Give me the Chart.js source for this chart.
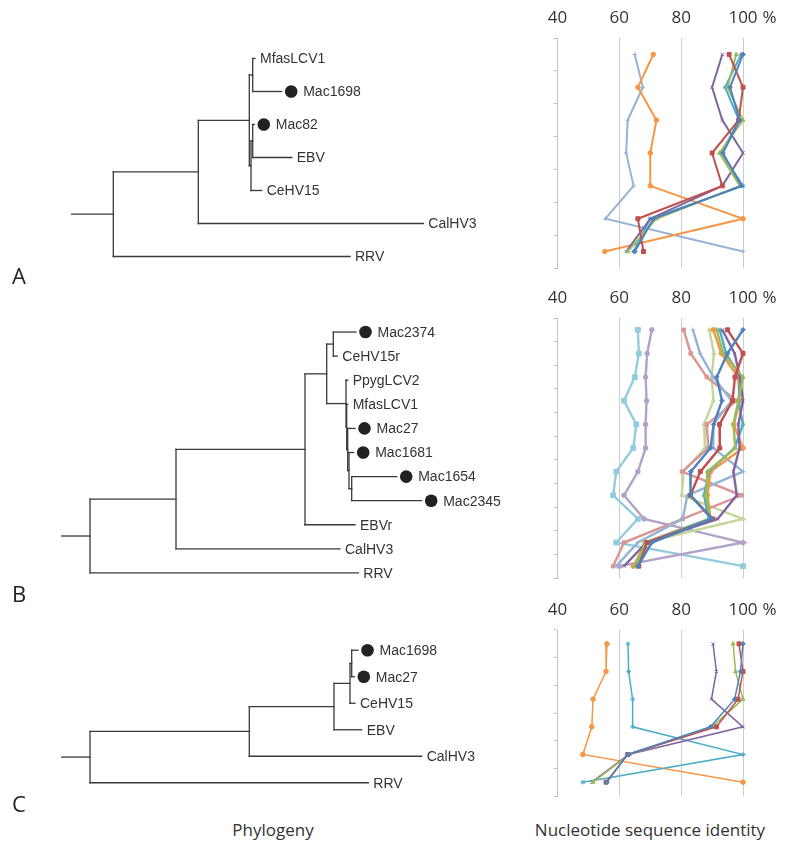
<!DOCTYPE html>
<html>
<head>
<meta charset="utf-8">
<script src="https://cdn.jsdelivr.net/npm/chart.js@4.4.0/dist/chart.umd.min.js"></script>
<style>
    body { margin: 0; width: 800px; height: 859px; background: #fff; position: relative; overflow: hidden;
           font-family: "Open Sans", sans-serif; color: #333; }
    .box { position: absolute; }
    .letter { position: absolute; left: 12px; font-size: 22px; line-height: 22px; color: #222; }
    .title { position: absolute; top: 818px; font-size: 17px; line-height: 24px; text-align: center; color: #333; }
</style>
</head>
<body>
<div class="box" style="left:0;top:42px;width:540px;height:231px"><canvas id="treeA"></canvas></div>
<div class="box" style="left:0;top:320px;width:540px;height:265px"><canvas id="treeB"></canvas></div>
<div class="box" style="left:0;top:637px;width:540px;height:159px"><canvas id="treeC"></canvas></div>

<div class="box" style="left:530px;top:0;width:270px;height:280px"><canvas id="identA"></canvas></div>
<div class="box" style="left:530px;top:280px;width:270px;height:310px"><canvas id="identB"></canvas></div>
<div class="box" style="left:530px;top:592px;width:270px;height:215px"><canvas id="identC"></canvas></div>

<div class="letter" style="top:264px">A</div>
<div class="letter" style="top:582px">B</div>
<div class="letter" style="top:792px">C</div>
<div class="title" style="left:173px;width:200px">Phylogeny</div>
<div class="title" style="left:520px;width:260px">Nucleotide sequence identity</div>

<script>
// Phylogenies (branch lengths)
const treeA = "((((MfasLCV1:2.3,Mac1698:29):3.4,((Mac82:1.6,EBV:39):1.7,CeHV15:10.7):1.7):51,CalHV3:225):85,RRV:236.7):41.6;";
const treeB = "(((((Mac2374:22.7,CeHV15r:4):6.6,(PpygLCV2:1.7,(MfasLCV1:1,(Mac27:7.3,(Mac1681:4.7,(Mac1654:45,Mac2345:70):2.7):1.3):1):0.7):19.3):21.7,EBVr:50):129,CalHV3:164):86,RRV:268.3):28.3;";
const treeC = "(((((Mac1698:6.3,Mac27:2.6):1.7,CeHV15:5):16,EBV:27.7):84.7,CalHV3:172.4):159.3,RRV:278.3):28.3;";

// Identity plots: one row per taxon, one value per taxon in the same order
const taxaA = ['MfasLCV1', 'Mac1698', 'Mac82', 'EBV', 'CeHV15', 'CalHV3', 'RRV'];
const identityA = [
    [100, 95.8, 98.9, 93.5, 99.5, 71, 65],
    [95.5, 100, 98.6, 90, 93.3, 66, 67.8],
    [97.8, 95, 100, 92.4, 99, 72, 62.7],
    [93.3, 90, 93.3, 100, 93.3, 70, 62.2],
    [99.4, 94.2, 98.7, 93, 100, 70, 64.6],
    [71, 66, 72, 70, 70, 100, 55.3],
    [65, 67.6, 62.7, 62.2, 64.6, 55.5, 100]
];

const taxaB = ['Mac2374', 'CeHV15r', 'PpygLCV2', 'MfasLCV1', 'Mac27', 'Mac1681', 'Mac1654', 'Mac2345', 'EBVr', 'CalHV3', 'RRV'];
const identityB = [
    [100, 95, 91.5, 93.2, 90.5, 89.5, 83.1, 83, 89.9, 70.5, 66],
    [95, 100, 97.4, 96.6, 92.4, 92.5, 86.2, 83, 90.2, 69, 66.3],
    [91.5, 93.6, 100, 98.5, 96.9, 97.5, 88.5, 88, 89.5, 68.5, 65],
    [93.3, 97.3, 99, 100, 98.5, 98.9, 96.9, 98, 91.8, 68.8, 61.5],
    [92.5, 94.5, 99.2, 98.5, 100, 97.3, 88.9, 87.4, 89, 68.5, 65.5],
    [90.4, 93, 98.4, 99, 97, 100, 89.5, 88.5, 89.5, 68.5, 64.5],
    [83.8, 86.1, 90.4, 96.3, 90.4, 90.4, 100, 82, 80.5, 66, 59],
    [80.8, 83.1, 88.3, 97.9, 88.3, 88.8, 80.3, 99.5, 80.5, 61.5, 58],
    [89.1, 90.6, 89.9, 90.4, 87.4, 87.7, 80.8, 80.2, 100, 68, 66],
    [70.5, 69, 68.5, 68.8, 68.5, 68.5, 66, 61.5, 68, 100, 60],
    [66, 66.3, 65, 61.5, 65.5, 64.5, 59, 58, 66, 59, 100]
];

const taxaC = ['Mac1698', 'Mac27', 'CeHV15', 'EBV', 'CalHV3', 'RRV'];
const identityC = [
    [100, 99.2, 97.3, 89.5, 62.7, 56],
    [98.7, 100, 98.4, 91.4, 62.7, 55.7],
    [96.8, 97.6, 100, 90, 63.3, 51.5],
    [90.3, 91.4, 89.8, 100, 63, 51.1],
    [62.8, 63, 64.3, 64.3, 100, 48.2],
    [56, 55.7, 51.5, 51.1, 48.2, 100]
];

const xTicks = [40, 60, 80, 100];

const COLORS = ['#4F81BD', '#C0504D', '#9BBB59', '#8064A2', '#4BACC6', '#F79646',
                '#95B3D7', '#D99694', '#C3D69B', '#B3A2C7', '#93CDDD'];
const MARKERS = ['rectRot', 'rect', 'triangle', 'crossRot', 'star', 'circle',
                 'cross', 'rect', 'triangle', 'circle', 'rect'];
const MARKER_SIZE = [2.3, 2.8, 2.3, 2.3, 2.3, 2.3, 2.3, 2.5, 2.3, 2.3, 3.4];

function parseNewick(s) {
    let i = 0;
    function node() {
        const n = { name: '', len: 0, children: [] };
        if (s[i] === '(') {
            i++;
            n.children.push(node());
            while (s[i] === ',') { i++; n.children.push(node()); }
            i++; // closing bracket
        }
        while (i < s.length && !',():;'.includes(s[i])) n.name += s[i++];
        if (s[i] === ':') {
            i++;
            let num = '';
            while (i < s.length && !',();'.includes(s[i])) num += s[i++];
            n.len = parseFloat(num);
        }
        return n;
    }
    return node();
}

function layoutTree(newick) {
    const leaves = [];
    const segs = [];
    function place(n, x0) {
        n.x = x0 + n.len;
        if (n.children.length === 0) {
            n.y = leaves.length;
            leaves.push(n);
        } else {
            n.children.forEach(c => place(c, n.x));
            const first = n.children[0].y, last = n.children[n.children.length - 1].y;
            n.y = (first + last) / 2;
            segs.push([{ x: n.x, y: first }, { x: n.x, y: last }]);
        }
        segs.push([{ x: x0, y: n.y }, { x: n.x, y: n.y }]);
    }
    place(parseNewick(newick), 0);
    return { leaves, segs };
}

function makeLeafPlugin(leaves) {
    return {
        id: 'leafLabels',
        afterDatasetsDraw(chart) {
            const ctx = chart.ctx, x = chart.scales.x, y = chart.scales.y;
            ctx.save();
            ctx.font = '14px "Liberation Sans", Arial, sans-serif';
            ctx.textBaseline = 'middle';
            leaves.forEach(leaf => {
                const px = x.getPixelForValue(leaf.x);
                const py = y.getPixelForValue(leaf.y);
                let tx = px + 5;
                if (leaf.name.startsWith('Mac')) {
                    ctx.fillStyle = '#222';
                    ctx.beginPath();
                    ctx.arc(px + 9.5, py, 6.3, 0, Math.PI * 2);
                    ctx.fill();
                    tx = px + 21.5;
                }
                ctx.fillStyle = '#333';
                ctx.fillText(leaf.name, tx, py + 1);
            });
            ctx.restore();
        }
    };
}

function drawTree(id, newick, origin) {
    const tree = layoutTree(newick);
    new Chart(document.getElementById(id), {
        type: 'scatter',
        data: {
            datasets: tree.segs.map(s => ({
                data: s,
                showLine: true,
                borderColor: '#3a3a3a',
                borderWidth: 1.3,
                borderCapStyle: 'square',
                pointRadius: 0,
                clip: false
            }))
        },
        options: {
            animation: false,
            responsive: true,
            maintainAspectRatio: false,
            layout: { padding: 0 },
            plugins: { legend: { display: false }, tooltip: { enabled: false } },
            scales: {
                x: { type: 'linear', display: false, min: -origin, max: 540 - origin },
                y: { type: 'linear', display: false, min: -0.5, max: tree.leaves.length - 0.5, reverse: true }
            }
        },
        plugins: [makeLeafPlugin(tree.leaves)]
    });
}

// draws the "%" after the 100 tick label
const percentPlugin = {
    id: 'percentSign',
    afterDraw(chart) {
        const ctx = chart.ctx, xs = chart.scales.x;
        const px = xs.getPixelForValue(100);
        ctx.save();
        ctx.font = '17px "Open Sans", sans-serif';
        const w = ctx.measureText('100').width;
        ctx.fillStyle = '#333';
        ctx.textBaseline = 'middle';
        ctx.fillText('%', px + w / 2 + 5, chart.chartArea.top - 20);
        ctx.restore();
    }
};

function drawIdentity(id, taxa, rows, lineWidth, bottomPad) {
    new Chart(document.getElementById(id), {
        type: 'line',
        data: {
            labels: taxa,
            datasets: rows.map((vals, k) => ({
                data: vals,
                borderColor: COLORS[k],
                backgroundColor: COLORS[k],
                borderWidth: lineWidth,
                pointStyle: MARKERS[k],
                pointRadius: MARKER_SIZE[k],
                pointBorderWidth: 1,
                tension: 0,
                clip: false
            }))
        },
        options: {
            indexAxis: 'y',
            animation: false,
            responsive: true,
            maintainAspectRatio: false,
            layout: { padding: { left: 21.5, right: 57, top: 0, bottom: bottomPad } },
            plugins: { legend: { display: false }, tooltip: { enabled: false } },
            scales: {
                x: {
                    type: 'linear',
                    position: 'top',
                    min: 40,
                    max: 100,
                    afterBuildTicks: s => { s.ticks = xTicks.map(v => ({ value: v })); },
                    afterFit: s => { s.height = 38; },
                    ticks: { color: '#333', padding: 10, font: { family: '"Open Sans", sans-serif', size: 17 } },
                    grid: { color: '#cccccc', drawTicks: false },
                    border: { display: false }
                },
                y: {
                    offset: true,
                    afterFit: s => { s.width = 6; },
                    ticks: { display: false },
                    grid: { drawOnChartArea: false, offset: true, tickLength: 4, color: '#c4c4c4' },
                    border: { color: '#c4c4c4' }
                }
            }
        },
        plugins: [percentPlugin]
    });
}

drawTree('treeA', treeA, 71.7);
drawTree('treeB', treeB, 61.7);
drawTree('treeC', treeC, 61.7);

drawIdentity('identA', taxaA, identityA, 2, 12);
drawIdentity('identB', taxaB, identityB, 2.4, 12);
drawIdentity('identC', taxaC, identityC, 1.5, 11);
</script>
</body>
</html>
